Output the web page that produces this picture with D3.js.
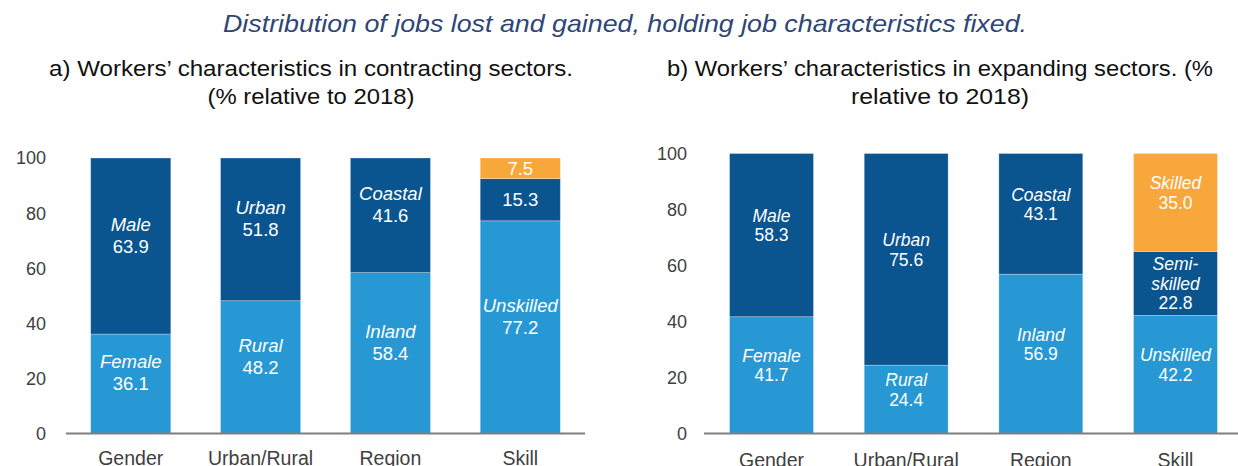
<!DOCTYPE html>
<html>
<head>
<meta charset="utf-8">
<script src="https://cdn.jsdelivr.net/npm/d3@7"></script>
<style>
  body { margin: 0; background: #fff; }
  svg text { font-family: "Liberation Sans", Arial, sans-serif; }
</style>
</head>
<body>
<svg id="chart" width="1238" height="466"></svg>
<script>
// categories shared by both panels
var categories = ['Gender', 'Urban/Rural', 'Region', 'Skill'];
var yTicks = [0, 20, 40, 60, 80, 100];

// a) contracting sectors
var lostBottom = [36.1, 48.2, 58.4, 77.2];
var lostMiddle = [63.9, 51.8, 41.6, 15.3];
var lostTop = [0, 0, 0, 7.5];
var lostBottomNames = ['Female', 'Rural', 'Inland', 'Unskilled'];
var lostMiddleNames = ['Male', 'Urban', 'Coastal', ''];
var lostTopNames = ['', '', '', ''];

// b) expanding sectors
var gainBottom = [41.7, 24.4, 56.9, 42.2];
var gainMiddle = [58.3, 75.6, 43.1, 22.8];
var gainTop = [0, 0, 0, 35.0];
var gainBottomNames = ['Female', 'Rural', 'Inland', 'Unskilled'];
var gainMiddleNames = ['Male', 'Urban', 'Coastal', 'Semi-|skilled'];
var gainTopNames = ['', '', '', 'Skilled'];

var colors = { bottom: '#2898d5', middle: '#0a5490', top: '#f8a73b' };
var fmt = d3.format('.1f');

var svg = d3.select('#chart');

svg.append('text')
  .attr('x', 625).attr('y', 32)
  .attr('text-anchor', 'middle')
  .attr('textLength', 804)
  .attr('lengthAdjust', 'spacingAndGlyphs')
  .style('font-size', '24px')
  .style('font-style', 'italic')
  .style('fill', '#2e4675')
  .text('Distribution of jobs lost and gained, holding job characteristics fixed.');

function panel(opts) {
  var g = svg.append('g');

  // subtitle, two lines, stretched to the widths of the original
  opts.title.forEach(function (line, i) {
    g.append('text')
      .attr('x', opts.titleX).attr('y', 76 + i * 28)
      .attr('text-anchor', 'middle')
      .attr('textLength', opts.titleW[i])
      .attr('lengthAdjust', 'spacingAndGlyphs')
      .style('font-size', '22px')
      .style('fill', '#111')
      .text(line);
  });

  var rows = categories.map(function (c, i) {
    return {
      cat: c,
      bottom: opts.bottom[i], middle: opts.middle[i], top: opts.top[i],
      names: { bottom: opts.bottomNames[i], middle: opts.middleNames[i], top: opts.topNames[i] }
    };
  });

  var x = d3.scaleBand()
    .domain(categories)
    .range(opts.xRange)
    .paddingInner(opts.padIn)
    .paddingOuter(0.19);

  var y = d3.scaleLinear().domain([0, 100]).range([433.5, opts.yTop]);

  var series = d3.stack().keys(['bottom', 'middle', 'top'])(rows);

  var layer = g.selectAll('.layer')
    .data(series)
    .enter().append('g')
    .attr('class', 'layer')
    .attr('fill', function (d) { return colors[d.key]; });

  layer.selectAll('rect')
    .data(function (d) { return d.filter(function (p) { return p[1] > p[0]; }); })
    .enter().append('rect')
    .attr('x', function (d) { return x(d.data.cat); })
    .attr('width', x.bandwidth())
    .attr('y', function (d) { return y(d[1]); })
    .attr('height', function (d) { return y(d[0]) - y(d[1]); })
    .attr('stroke', 'rgba(255,255,255,0.35)')
    .attr('stroke-width', 0.8);

  // segment labels: value at segment centre, names stacked above it
  series.forEach(function (s) {
    s.forEach(function (p) {
      var v = p[1] - p[0];
      if (v <= 0) return;
      var names = p.data.names[s.key] ? p.data.names[s.key].split('|') : [];
      var n = names.length + 1;
      var cx = x(p.data.cat) + x.bandwidth() / 2;
      var cy = y((p[0] + p[1]) / 2) + Math.max(0, n - 2) * opts.lineH;
      var t = g.append('text')
        .attr('text-anchor', 'middle')
        .style('font-size', opts.labelSize)
        .style('fill', '#fff');
      names.forEach(function (nm, j) {
        t.append('tspan')
          .attr('x', cx)
          .attr('y', cy - (names.length - j) * opts.lineH)
          .attr('dy', '0.36em')
          .style('font-style', 'italic')
          .text(nm);
      });
      t.append('tspan')
        .attr('x', cx).attr('y', cy).attr('dy', '0.36em')
        .text(fmt(v));
    });
  });

  // y tick labels, no axis line
  g.selectAll('.ytick')
    .data(yTicks)
    .enter().append('text')
    .attr('class', 'ytick')
    .attr('x', opts.tickX)
    .attr('y', function (d) { return y(d); })
    .attr('dy', '0.36em')
    .attr('text-anchor', 'end')
    .style('font-size', '18px')
    .style('fill', '#404040')
    .text(function (d) { return d; });

  // baseline
  g.append('line')
    .attr('x1', opts.axisX[0]).attr('x2', opts.axisX[1])
    .attr('y1', y(0)).attr('y2', y(0))
    .attr('stroke', '#7f7f7f')
    .attr('stroke-width', 2);

  g.selectAll('.xlabel')
    .data(categories)
    .enter().append('text')
    .attr('class', 'xlabel')
    .attr('x', function (d) { return x(d) + x.bandwidth() / 2; })
    .attr('y', opts.catY)
    .attr('text-anchor', 'middle')
    .style('font-size', '19.5px')
    .style('fill', '#404040')
    .text(function (d) { return d; });
}

panel({
  title: ['a) Workers\u2019 characteristics in contracting sectors.', '(% relative to 2018)'],
  titleX: 311, titleW: [524, 207],
  bottom: lostBottom, middle: lostMiddle, top: lostTop,
  bottomNames: lostBottomNames, middleNames: lostMiddleNames, topNames: lostTopNames,
  xRange: [66, 585], padIn: 0.383, yTop: 158,
  axisX: [66, 585], tickX: 46, catY: 465,
  labelSize: '18.5px', lineH: 22
});

panel({
  title: ['b) Workers\u2019 characteristics in expanding sectors. (%', 'relative to 2018)'],
  titleX: 940, titleW: [546, 178],
  bottom: gainBottom, middle: gainMiddle, top: gainTop,
  bottomNames: gainBottomNames, middleNames: gainMiddleNames, topNames: gainTopNames,
  xRange: [704, 1243], padIn: 0.377, yTop: 153.5,
  axisX: [704, 1238], tickX: 687, catY: 467,
  labelSize: '17.5px', lineH: 19.5
});
</script>
</body>
</html>
